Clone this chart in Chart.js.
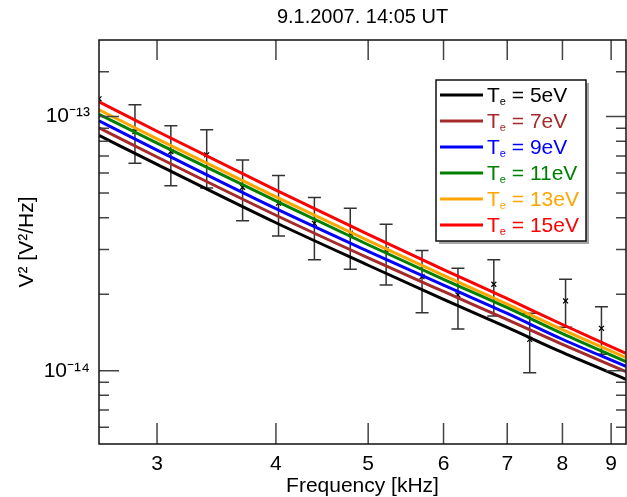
<!DOCTYPE html>
<html>
<head>
<meta charset="utf-8">
<script src="https://cdn.jsdelivr.net/npm/chart.js@4.4.0/dist/chart.umd.min.js"></script>
<style>
    body { margin: 0; background: #fff; }
    #wrap { width: 627px; height: 497px; }
</style>
</head>
<body>
<div id="wrap"><canvas id="chart"></canvas></div>
<script>
// measured spectrum (kHz, V^2/Hz) with error bar ends
const measFreqs = [2.607, 2.844, 3.102, 3.383, 3.690, 4.025, 4.390, 4.788, 5.222, 5.696, 6.213, 6.776, 7.391, 8.061, 8.792];
const measured = [1.174e-13, 8.73e-14, 7.28e-14, 7.07e-14, 5.27e-14, 4.56e-14, 3.80e-14, 3.475e-14, 2.99e-14, 2.344e-14, 1.987e-14, 2.189e-14, 1.329e-14, 1.882e-14, 1.469e-14];
const errHigh = [null, 1.112e-13, 9.19e-14, 8.87e-14, 6.75e-14, 5.86e-14, 4.80e-14, 4.36e-14, 3.77e-14, 2.97e-14, 2.53e-14, 2.73e-14, 1.683e-14, 2.29e-14, 1.786e-14];
const errLow = [null, 6.55e-14, 5.34e-14, 5.23e-14, 3.89e-14, 3.39e-14, 2.73e-14, 2.51e-14, 2.175e-14, 1.692e-14, 1.459e-14, 1.642e-14, 0.982e-14, 1.482e-14, 1.16e-14];

// model curves for each electron temperature
const modelFreqs = [2.607, 3, 4, 5, 6, 7, 8, 9.33];
const te5 = [8.43e-14, 6.48e-14, 3.82e-14, 2.60e-14, 1.91e-14, 1.48e-14, 1.18e-14, 9.25e-15];
const te7 = [9.03e-14, 6.93e-14, 4.09e-14, 2.78e-14, 2.05e-14, 1.59e-14, 1.27e-14, 9.91e-15];
const te9 = [9.62e-14, 7.38e-14, 4.34e-14, 2.95e-14, 2.17e-14, 1.68e-14, 1.33e-14, 1.04e-14];
const te11 = [1.020e-13, 7.86e-14, 4.66e-14, 3.13e-14, 2.29e-14, 1.77e-14, 1.40e-14, 1.085e-14];
const te13 = [1.063e-13, 8.17e-14, 4.83e-14, 3.25e-14, 2.37e-14, 1.83e-14, 1.45e-14, 1.125e-14];
const te15 = [1.143e-13, 8.75e-14, 5.13e-14, 3.44e-14, 2.50e-14, 1.92e-14, 1.52e-14, 1.17e-14];

const temps = [5, 7, 9, 11, 13, 15];
const colors = ['#000000', '#a52a2a', '#0000ff', '#008000', '#ffa500', '#ff0000'];

const xTicks = [3, 4, 5, 6, 7, 8, 9];
const yMajor = [1e-14, 1e-13];
const yMinor = [6e-15, 7e-15, 8e-15, 9e-15, 2e-14, 3e-14, 4e-14, 5e-14, 6e-14, 7e-14, 8e-14, 9e-14, 1.5e-13];

const FONT = '"Liberation Sans", Arial, Helvetica, sans-serif';
Chart.defaults.font.family = FONT;
Chart.defaults.color = '#000';

const pts = (xs, ys) => xs.map((x, i) => ({x: x, y: ys[i]}));

const modelSets = [te5, te7, te9, te11, te13, te15].map((vals, i) => ({
    label: 'Te = ' + temps[i] + 'eV',
    data: pts(modelFreqs, vals),
    borderColor: colors[i],
    borderWidth: 3,
    pointRadius: 0,
    cubicInterpolationMode: 'monotone',
    fill: false,
    order: 1
}));

const measSet = {
    label: 'measured',
    data: pts(measFreqs, measured),
    showLine: false,
    pointStyle: 'crossRot',
    pointRadius: 3.5,
    borderColor: '#000',
    borderWidth: 1.2,
    order: 10
};

// inward ticks on all four sides plus the frame
const frameTicks = {
    id: 'frameTicks',
    afterDraw(chart) {
        const {ctx, chartArea: a, scales: {x, y}} = chart;
        ctx.save();
        ctx.strokeStyle = '#444';
        ctx.lineWidth = 1.5;
        ctx.beginPath();
        xTicks.forEach(v => {
            const px = x.getPixelForValue(v);
            ctx.moveTo(px, a.bottom); ctx.lineTo(px, a.bottom - 21);
            ctx.moveTo(px, a.top); ctx.lineTo(px, a.top + 20);
        });
        yMajor.forEach(v => {
            const py = y.getPixelForValue(v);
            ctx.moveTo(a.left, py); ctx.lineTo(a.left + 20, py);
            ctx.moveTo(a.right, py); ctx.lineTo(a.right - 20, py);
        });
        yMinor.forEach(v => {
            const py = y.getPixelForValue(v);
            ctx.moveTo(a.left, py); ctx.lineTo(a.left + 10, py);
            ctx.moveTo(a.right, py); ctx.lineTo(a.right - 10, py);
        });
        ctx.stroke();
        ctx.strokeStyle = '#111';
        ctx.strokeRect(a.left, a.top, a.right - a.left, a.bottom - a.top);
        ctx.restore();
    }
};

const errorBars = {
    id: 'errorBars',
    beforeDatasetsDraw(chart) {
        const {ctx, chartArea: a, scales: {x, y}} = chart;
        ctx.save();
        ctx.beginPath();
        ctx.rect(a.left, a.top, a.right - a.left, a.bottom - a.top);
        ctx.clip();
        ctx.strokeStyle = '#333';
        ctx.lineWidth = 1.5;
        ctx.beginPath();
        measFreqs.forEach((f, i) => {
            if (errLow[i] == null) return;
            const px = x.getPixelForValue(f);
            const lo = y.getPixelForValue(errLow[i]);
            const hi = y.getPixelForValue(errHigh[i]);
            ctx.moveTo(px, lo); ctx.lineTo(px, hi);
            ctx.moveTo(px - 6.5, lo); ctx.lineTo(px + 6.5, lo);
            ctx.moveTo(px - 6.5, hi); ctx.lineTo(px + 6.5, hi);
        });
        ctx.stroke();
        ctx.restore();
    }
};

// legend box with subscript e, drawn by hand
const teLegend = {
    id: 'teLegend',
    afterDraw(chart) {
        const ctx = chart.ctx;
        const bx = 436, by = 80, bw = 150, bh = 161;
        ctx.save();
        ctx.fillStyle = 'rgba(0,0,0,0.35)';
        ctx.fillRect(bx + 3, by + 3, bw, bh);
        ctx.fillStyle = '#fff';
        ctx.fillRect(bx, by, bw, bh);
        ctx.strokeStyle = '#111';
        ctx.lineWidth = 1.5;
        ctx.strokeRect(bx, by, bw, bh);
        temps.forEach((t, i) => {
            const ry = 95 + i * 26;
            ctx.strokeStyle = colors[i];
            ctx.lineWidth = 3;
            ctx.beginPath();
            ctx.moveTo(440, ry); ctx.lineTo(483, ry);
            ctx.stroke();
            ctx.fillStyle = colors[i];
            ctx.textBaseline = 'middle';
            let tx = 487;
            ctx.font = '21px ' + FONT;
            ctx.fillText('T', tx, ry + 1);
            tx += ctx.measureText('T').width;
            ctx.font = '11px ' + FONT;
            ctx.fillText('e', tx, ry + 7);
            tx += ctx.measureText('e').width;
            ctx.font = '21px ' + FONT;
            ctx.fillText(' = ' + t + 'eV', tx, ry + 1);
        });
        ctx.restore();
    }
};

const config = {
    type: 'line',
    data: { datasets: [...modelSets, measSet] },
    options: {
        responsive: true,
        maintainAspectRatio: false,
        animation: false,
        layout: { autoPadding: false, padding: { right: 1 } },
        plugins: {
            legend: { display: false },
            tooltip: { enabled: false },
            title: {
                display: true,
                fullSize: false,
                text: '9.1.2007. 14:05 UT',
                font: { size: 20, weight: 'normal' },
                color: '#000',
                padding: { top: 5, bottom: 11 }
            }
        },
        scales: {
            x: {
                type: 'logarithmic',
                min: 2.607,
                max: 9.33,
                afterBuildTicks: s => { s.ticks = xTicks.map(v => ({value: v})); },
                afterFit: s => { s.height = 53; },
                grid: { display: false, drawTicks: false },
                border: { display: false },
                ticks: {
                    autoSkip: false,
                    maxRotation: 0,
                    padding: 8,
                    font: { size: 21 },
                    callback: v => String(Math.round(v))
                },
                title: {
                    display: true,
                    text: 'Frequency [kHz]',
                    font: { size: 21, lineHeight: 1 },
                    padding: { bottom: 0 }
                }
            },
            y: {
                type: 'logarithmic',
                min: 5.15e-15,
                max: 2e-13,
                afterBuildTicks: s => { s.ticks = yMajor.map(v => ({value: v})); },
                afterFit: s => { s.width = 99; },
                grid: { display: false, drawTicks: false },
                border: { display: false },
                ticks: {
                    autoSkip: false,
                    padding: 9,
                    font: { size: 21 },
                    callback: v => Math.round(Math.log10(v)) === -13 ? '10⁻¹³' : '10⁻¹⁴'
                },
                title: {
                    display: true,
                    text: 'V² [V²/Hz]',
                    font: { size: 21 },
                    padding: { top: 15 }
                }
            }
        }
    },
    plugins: [errorBars, frameTicks, teLegend]
};

const chart = new Chart(document.getElementById('chart'), config);
</script>
</body>
</html>
